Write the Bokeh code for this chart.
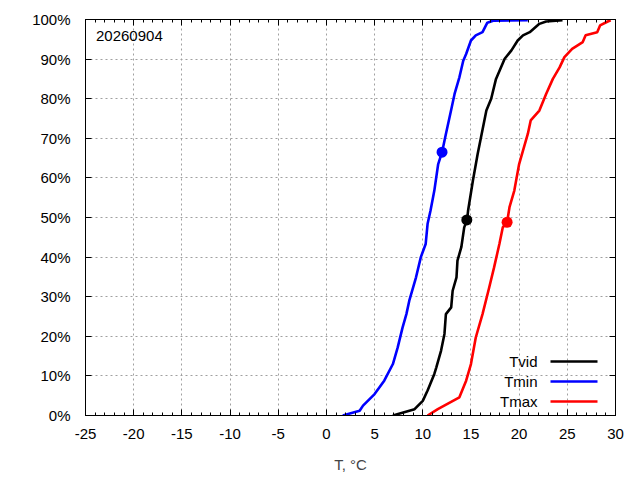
from bokeh.plotting import figure
from bokeh.models import (FixedTicker, PrintfTickFormatter, CustomJSTickFormatter, LinearAxis, Label, Arrow, Range1d)
from bokeh.embed import file_html
from bokeh.resources import INLINE

# --- data ---
tmin_x = [1.7, 3.45, 3.8, 5.0, 6.0, 6.9, 7.4, 7.9, 8.3, 8.6, 9.3, 9.8, 10.3, 10.5, 10.8, 11.2, 11.6, 12.0,
          12.4, 13.0, 13.3, 13.8, 14.2, 14.5, 15.0, 15.5, 16.2, 16.7, 17.3, 20.9]
tmin_y = [0.0, 1.2, 2.5, 5.4, 8.8, 13.0, 17.2, 22.2, 25.6, 29.0, 34.9, 40.0, 43.3, 48.4, 51.7, 56.8, 63.5, 66.5,
          71.1, 77.8, 81.2, 85.4, 89.6, 91.3, 94.7, 96.0, 96.8, 99.2, 99.7, 99.8]

tvid_x = [6.9, 9.15, 10.0, 10.5, 11.2, 11.4, 11.9, 12.25, 12.4, 12.95, 13.1, 13.5, 13.6, 14.0, 14.3, 14.6,
          14.7, 15.2, 15.7, 16.05, 16.6, 17.1, 17.6, 18.5, 19.2, 19.85, 20.4, 21.1, 22.1, 22.8, 24.5]
tvid_y = [0.0, 1.6, 3.7, 6.3, 10.5, 12.1, 16.4, 20.6, 25.6, 27.3, 31.5, 34.9, 39.1, 42.5, 47.5, 49.4,
          51.7, 59.3, 66.1, 70.3, 77.0, 80.0, 85.0, 90.1, 92.2, 94.7, 96.0, 96.8, 98.9, 99.5, 99.8]

tmax_x = [10.5, 11.56, 13.8, 14.5, 15.0, 15.5, 16.2, 16.9, 17.4, 17.95, 18.3, 18.75, 19.0, 19.5, 20.0, 20.4,
          20.9, 21.2, 22.1, 22.8, 23.5, 24.2, 24.7, 25.5, 26.6, 26.9, 28.1, 28.4, 29.2, 29.5]
tmax_y = [0.0, 1.6, 4.6, 8.8, 13.0, 19.7, 25.6, 32.4, 37.4, 43.3, 47.5, 48.8, 52.6, 56.8, 63.5, 66.9,
          71.1, 74.5, 77.0, 81.2, 85.0, 87.9, 90.5, 92.6, 94.3, 96.0, 96.8, 98.5, 99.5, 99.8]

dot_x = [14.57, 12.0, 18.75]      # Tvid, Tmin, Tmax
dot_y = [49.4, 66.5, 48.8]

series_names = ["Tvid", "Tmin", "Tmax"]
series_colors = ["#000000", "#0000ff", "#ff0000"]

x_ticks = [-25, -20, -15, -10, -5, 0, 5, 10, 15, 20, 25, 30]
x_minor = list(range(-25, 31))
y_ticks = [0, 10, 20, 30, 40, 50, 60, 70, 80, 90, 100]

date_label = "20260904"
x_title = "T, °C"

FONT = "Liberation Sans"
FS = "15px"

p = figure(frame_width=530, frame_height=396, output_backend="svg", toolbar_location=None,
           x_range=Range1d(-25, 30), y_range=Range1d(0, 100),
           min_border_left=85, min_border_right=9, min_border_top=19, min_border_bottom=50,
           background_fill_color="white", border_fill_color="white")
p.outline_line_color = "black"
p.outline_line_width = 1

def style_axis(ax, ticker, show_labels):
    ax.ticker = ticker
    ax.axis_line_color = "black"
    ax.major_tick_in = 6
    ax.major_tick_out = 0
    ax.minor_tick_in = 3
    ax.minor_tick_out = 0
    ax.major_tick_line_color = "black"
    ax.minor_tick_line_color = "black"
    ax.major_label_text_font = FONT
    ax.major_label_text_font_size = FS
    ax.major_label_text_color = "black"
    if not show_labels:
        ax.formatter = CustomJSTickFormatter(code="return '';")
        ax.major_label_standoff = 0

xt = FixedTicker(ticks=x_ticks, minor_ticks=x_minor)
yt = FixedTicker(ticks=y_ticks, minor_ticks=[])

style_axis(p.xaxis[0], xt, True)
p.xaxis[0].formatter = PrintfTickFormatter(format="%d")
p.xaxis[0].major_label_standoff = 13
p.xaxis[0].axis_label = x_title
p.xaxis[0].axis_label_text_font = FONT
p.xaxis[0].axis_label_text_font_size = FS
p.xaxis[0].axis_label_text_font_style = "normal"
p.xaxis[0].axis_label_standoff = 14

style_axis(p.yaxis[0], yt, True)
p.yaxis[0].formatter = PrintfTickFormatter(format="%d%%")
p.yaxis[0].major_label_standoff = 15

top_ax = LinearAxis()
style_axis(top_ax, FixedTicker(ticks=x_ticks, minor_ticks=x_minor), False)
p.add_layout(top_ax, "above")
right_ax = LinearAxis()
style_axis(right_ax, FixedTicker(ticks=y_ticks, minor_ticks=[]), False)
p.add_layout(right_ax, "right")

for g in (p.xgrid[0], p.ygrid[0]):
    g.grid_line_color = "#a0a0a0"
    g.grid_line_dash = "2 3"
    g.grid_line_width = 1
p.xgrid[0].ticker = xt
p.ygrid[0].ticker = yt

lw = 2.6
p.line(tvid_x, tvid_y, line_color=series_colors[0], line_width=lw)
p.line(tmin_x, tmin_y, line_color=series_colors[1], line_width=lw)
p.line(tmax_x, tmax_y, line_color=series_colors[2], line_width=lw)
p.scatter(dot_x, dot_y, size=11, color=series_colors, line_width=0)

# legend (gnuplot style: text right-aligned, sample to its right)
for i, (name, col) in enumerate(zip(series_names, series_colors)):
    yy = 54 - 20 * i
    p.add_layout(Label(x=452, y=yy, x_units="screen", y_units="screen", text=name,
                       text_align="right", text_baseline="middle", text_font=FONT,
                       text_font_size=FS, text_color="black"))
    p.add_layout(Arrow(x_start=465, x_end=512, y_start=yy, y_end=yy,
                       start_units="screen", end_units="screen", end=None,
                       line_color=col, line_width=lw))

p.add_layout(Label(x=10.5, y=380, x_units="screen", y_units="screen", text=date_label,
                   text_align="left", text_baseline="middle", text_font=FONT,
                   text_font_size=FS, text_color="black"))

open("out.html", "w").write(file_html(p, INLINE))
